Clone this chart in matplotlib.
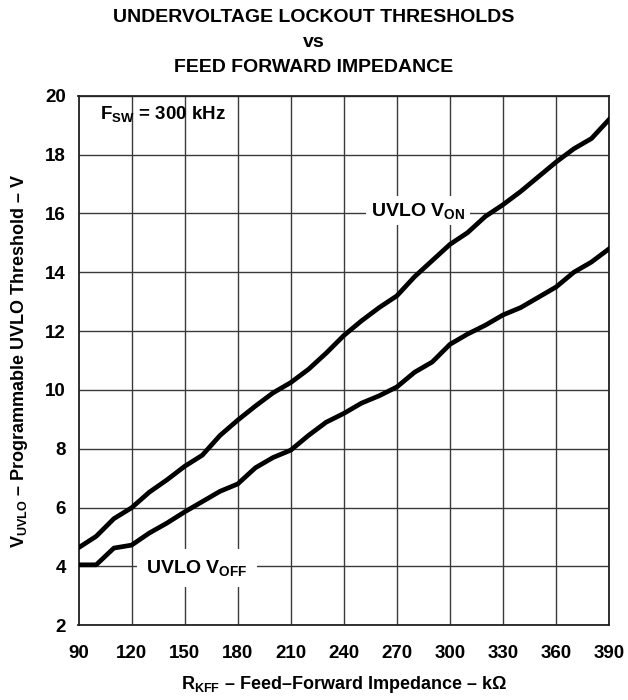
import numpy as np
import matplotlib
matplotlib.use('Agg')
import matplotlib.pyplot as plt

plt.rcParams['font.family'] = ['Liberation Sans', 'DejaVu Sans']
plt.rcParams['font.weight'] = 'bold'
plt.rcParams['mathtext.fontset'] = 'custom'
plt.rcParams['mathtext.rm'] = 'Liberation Sans:bold'
plt.rcParams['mathtext.bf'] = 'Liberation Sans:bold'
plt.rcParams['mathtext.it'] = 'Liberation Sans:bold'

# data (kOhm, V)
r_kff = [90, 100, 110, 120, 130, 140, 150, 160, 170, 180, 190, 200, 210, 220, 230,
         240, 250, 260, 270, 280, 290, 300, 310, 320, 330, 340, 350, 360, 370, 380, 390]
v_on = [4.63, 5.02, 5.62, 5.99, 6.52, 6.94, 7.40, 7.78, 8.45, 8.97, 9.45, 9.90, 10.25,
        10.70, 11.25, 11.85, 12.35, 12.80, 13.20, 13.85, 14.40, 14.95, 15.35, 15.90,
        16.30, 16.75, 17.25, 17.75, 18.20, 18.55, 19.20]
v_off = [4.05, 4.05, 4.62, 4.72, 5.13, 5.47, 5.85, 6.20, 6.55, 6.80, 7.35, 7.70, 7.95,
         8.45, 8.90, 9.20, 9.55, 9.80, 10.10, 10.60, 10.95, 11.55, 11.90, 12.20, 12.55,
         12.80, 13.15, 13.50, 14.00, 14.35, 14.80]

x_ticks = list(range(90, 391, 30))
y_ticks = list(range(2, 21, 2))

fig = plt.figure(figsize=(6.28, 7.0), dpi=100)
ax = fig.add_axes([0.125, 0.107, 0.845, 0.756])

ax.plot(r_kff, v_on, color='black', lw=3.4, solid_joinstyle='round', zorder=3)
ax.plot(r_kff, v_off, color='black', lw=3.4, solid_joinstyle='round', zorder=3)

ax.set_xlim(90, 390)
ax.set_ylim(2, 20)
ax.set_xticks(x_ticks)
ax.set_yticks(y_ticks)
ax.tick_params(axis='x', length=0, labelsize=13.5, pad=14)
ax.tick_params(axis='y', length=0, labelsize=13.5, pad=9)
for lab in ax.get_xticklabels() + ax.get_yticklabels():
    lab.set_fontweight('bold')
ax.grid(True, color='#3a3a3a', lw=1.0)
ax.set_axisbelow(True)
for s in ax.spines.values():
    s.set_linewidth(1.3)
    s.set_color('#222222')

# curve labels
ax.text(282, 16.1, r'UVLO V$_{\mathrm{ON}}$', fontsize=14, fontweight='bold',
        ha='center', va='center', zorder=2,
        bbox=dict(boxstyle='square,pad=0.25', facecolor='white', edgecolor='none'))
ax.text(157, 3.95, r'UVLO V$_{\mathrm{OFF}}$', fontsize=14, fontweight='bold',
        ha='center', va='center', zorder=2,
        bbox=dict(boxstyle='square,pad=0.45', facecolor='white', edgecolor='none'))
ax.text(102, 19.4, r'F$_{\mathrm{SW}}$ = 300 kHz', fontsize=13.5, fontweight='bold',
        ha='left', va='center', zorder=4)

ax.set_xlabel(r'R$_{\mathrm{KFF}}$ – Feed–Forward Impedance – kΩ', fontsize=13,
              fontweight='bold', labelpad=9)
ax.set_ylabel(r'V$_{\mathrm{UVLO}}$ – Programmable UVLO Threshold – V', fontsize=13,
              fontweight='bold', labelpad=11)

fig.text(0.5, 0.987, 'UNDERVOLTAGE LOCKOUT THRESHOLDS\nvs\nFEED FORWARD IMPEDANCE',
         ha='center', va='top', fontsize=14, fontweight='bold', linespacing=1.62)

fig.savefig('out.png', dpi=100)
